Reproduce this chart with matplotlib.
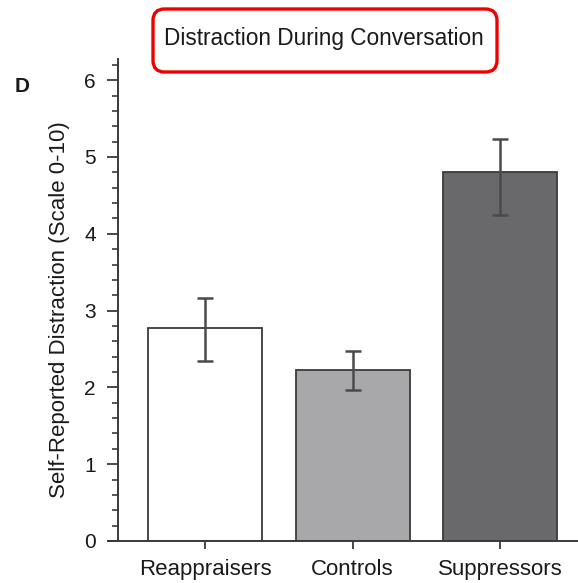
import matplotlib
matplotlib.use("Agg")
import matplotlib.pyplot as plt
from matplotlib.patches import FancyBboxPatch
from matplotlib.ticker import MultipleLocator
import numpy as np

plt.rcParams['font.family'] = ['Liberation Sans', 'DejaVu Sans']

categories = ["Reappraisers", "Controls", "Suppressors"]
means = [2.77, 2.23, 4.81]
err_low = [0.42, 0.27, 0.57]
err_high = [0.40, 0.25, 0.42]
colors = ["#ffffff", "#a8a8aa", "#69696b"]
y_ticks = [0, 1, 2, 3, 4, 5, 6]

W, H = 578, 583
fig = plt.figure(figsize=(W / 100, H / 100), dpi=100)

ymax = 6.27
top_px = 541 - ymax * 76.8
ax = fig.add_axes([108 / W, (H - 541) / H, (578 - 108) / W, (541 - top_px) / H])

x = np.arange(len(categories))
edge = "#3a3a3a"
ax.bar(x, means, width=0.773, color=colors, edgecolor=edge, linewidth=1.3, zorder=2)
ax.errorbar(x, means, yerr=[err_low, err_high], fmt="none", ecolor="#4a4a4a",
            elinewidth=1.8, capsize=5.5, capthick=1.8, zorder=3)

ax.set_xlim(-0.658, 2.529)
ax.set_ylim(0, ymax)

for s in ["top", "right"]:
    ax.spines[s].set_visible(False)
ax.spines['left'].set_position(('data', -0.59))
ax.spines['left'].set_color(edge)
ax.spines['bottom'].set_color(edge)
ax.spines['left'].set_linewidth(1.4)
ax.spines['bottom'].set_linewidth(1.4)

ax.set_yticks(y_ticks)
ax.set_yticklabels([str(t) for t in y_ticks])
ax.yaxis.set_minor_locator(MultipleLocator(0.2))
ax.tick_params(axis='y', which='major', length=8, width=1.3, color=edge,
               labelsize=15, pad=8, labelcolor="#1a1a1a")
ax.tick_params(axis='y', which='minor', length=4.5, width=1.2, color=edge)
ax.set_xticks(x)
ax.set_xticklabels(categories)
ax.tick_params(axis='x', length=6, width=1.3, color=edge, labelsize=16, pad=7,
               labelcolor="#1a1a1a")

fig.text(60 / W, 1 - 310 / H, "Self-Reported Distraction (Scale 0-10)", rotation=90,
         ha='center', va='center', fontsize=16, color="#1a1a1a")

fig.text(22 / W, 1 - 86 / H, "D", ha='center', va='center', fontsize=15,
         fontweight='bold', color="#1a1a1a")

bx0, by0, bx1, by1 = 153, 9, 497, 72
box = FancyBboxPatch((bx0 / W, 1 - by1 / H), (bx1 - bx0) / W, (by1 - by0) / H,
                     boxstyle="round,pad=0,rounding_size=0.02",
                     transform=fig.transFigure, facecolor="white",
                     edgecolor="#ee0000", linewidth=2.4)
fig.patches.append(box)
fig.text(324 / W, 1 - 38 / H, "Distraction During Conversation", ha='center', va='center',
         fontsize=16.3, color="#1a1a1a")

fig.savefig("out.png", dpi=100)
